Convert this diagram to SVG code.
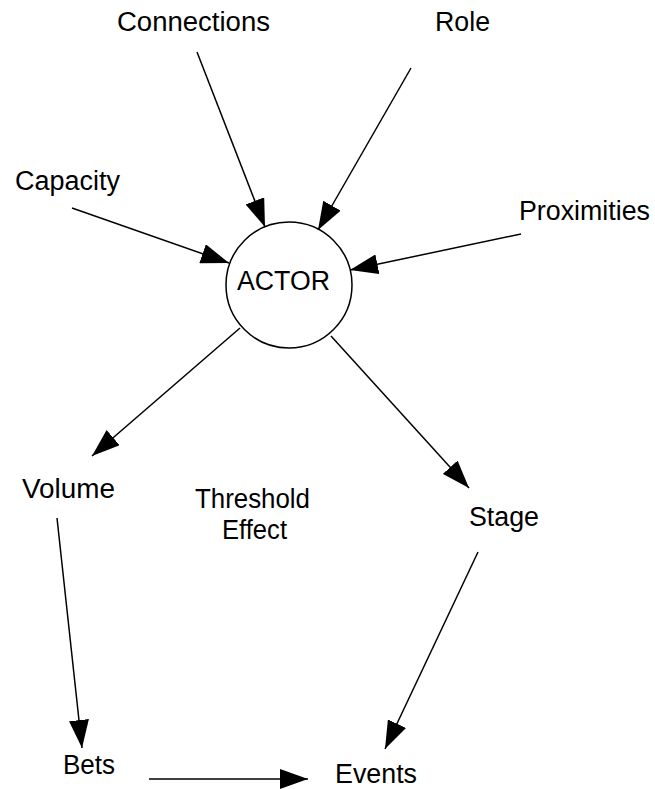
<svg xmlns="http://www.w3.org/2000/svg" width="655" height="789" viewBox="0 0 655 789">
<style>
text{font-family:"Liberation Sans",Arial,sans-serif;font-size:27px;fill:#000}
.c line{stroke:#000;stroke-width:1.5;marker-end:url(#ah)}
</style>
<defs>
<marker id="ah" markerUnits="userSpaceOnUse" markerWidth="28" markerHeight="20" refX="28" refY="10" orient="auto" viewBox="0 0 28 20">
<path d="M0,0 L28,10 L0,20 z" fill="#000"/>
</marker>
</defs>
<rect width="655" height="789" fill="#fff"/>
<g id="actor">
<circle cx="289" cy="285" r="63" fill="#fff" stroke="#000" stroke-width="1.5"/>
<text x="237" y="290" textLength="93" lengthAdjust="spacingAndGlyphs">ACTOR</text>
</g>
<g id="connections"><text x="117" y="31" textLength="153" lengthAdjust="spacingAndGlyphs">Connections</text></g>
<g id="role"><text x="435" y="31" textLength="55" lengthAdjust="spacingAndGlyphs">Role</text></g>
<g id="capacity"><text x="15" y="190" textLength="105" lengthAdjust="spacingAndGlyphs">Capacity</text></g>
<g id="proximities"><text x="519" y="220" textLength="131" lengthAdjust="spacingAndGlyphs">Proximities</text></g>
<g id="volume"><text x="22" y="498" textLength="93" lengthAdjust="spacingAndGlyphs">Volume</text></g>
<g id="threshold"><text x="195" y="508" textLength="115" lengthAdjust="spacingAndGlyphs">Threshold</text><text x="222" y="539" textLength="65" lengthAdjust="spacingAndGlyphs">Effect</text></g>
<g id="stage"><text x="469" y="526" textLength="70" lengthAdjust="spacingAndGlyphs">Stage</text></g>
<g id="bets"><text x="63" y="774" textLength="52" lengthAdjust="spacingAndGlyphs">Bets</text></g>
<g id="events"><text x="335" y="783" textLength="82" lengthAdjust="spacingAndGlyphs">Events</text></g>
<g id="connectors" class="c">
<line x1="197" y1="52" x2="265" y2="227"/>
<line x1="411" y1="68" x2="318" y2="230"/>
<line x1="72" y1="208" x2="229" y2="263"/>
<line x1="521" y1="234" x2="350" y2="270"/>
<line x1="240" y1="328" x2="92" y2="456"/>
<line x1="331" y1="336" x2="469" y2="488"/>
<line x1="57" y1="518" x2="82" y2="748"/>
<line x1="478" y1="552" x2="385" y2="749"/>
<line x1="149" y1="779" x2="308" y2="779"/>
</g>
</svg>
